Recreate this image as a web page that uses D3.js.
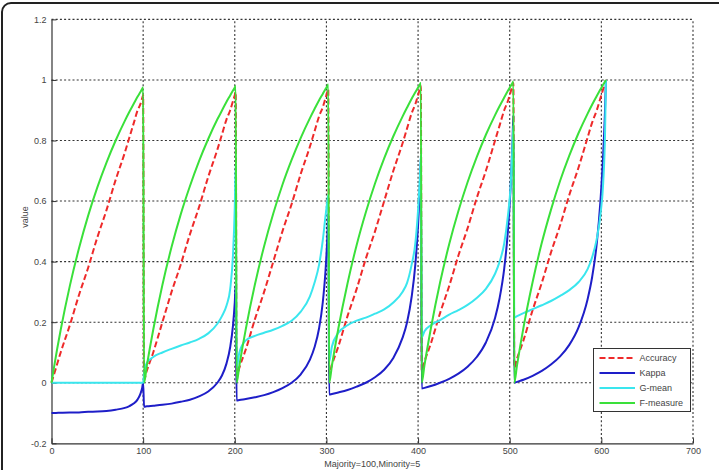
<!doctype html>
<html>
  <head>
    <meta charset="utf-8">
    <title>Majority=100, Minority=5</title>
    <script src="https://cdnjs.cloudflare.com/ajax/libs/d3/7.8.5/d3.min.js"></script>
    <style>
      body { margin: 0; background: #fff; }
      svg { display: block; font-family: "Liberation Sans", Arial, sans-serif; }
    </style>
  </head>
  <body>
    <div id="chart"></div>
    <script>
      // sample points inside each cycle (offset from cycle start)
      const offsets = [0, 3, 10, 20, 30, 40, 50, 60, 70, 80, 85, 90, 94, 97, 99, 100];
      const cycleStarts = [0, 101, 202, 303, 404, 505];

      const accuracy = [
        [0, .03, .10, .19, .29, .38, .48, .57, .67, .76, .81, .86, .90, .92, .94, .95],
        [.01, .04, .10, .20, .30, .39, .49, .58, .68, .77, .82, .87, .90, .93, .95, .96],
        [.02, .05, .11, .21, .30, .40, .50, .59, .69, .78, .83, .88, .91, .94, .96, .97],
        [.03, .06, .12, .22, .31, .41, .50, .60, .70, .79, .84, .89, .92, .95, .97, .98],
        [.04, .07, .13, .23, .32, .42, .51, .61, .70, .80, .85, .90, .93, .96, .98, .99],
        [.05, .08, .14, .24, .33, .43, .52, .62, .71, .81, .86, .90, .94, .97, .99, 1.0]
      ];
      const kappa = [
        [-.10, -.10, -.099, -.098, -.098, -.096, -.095, -.093, -.089, -.083, -.077, -.068, -.055, -.037, -.016, 0],
        [-.079, -.078, -.076, -.073, -.069, -.063, -.056, -.045, -.029, 0, .024, .064, .118, .188, .266, .323],
        [-.059, -.057, -.054, -.048, -.041, -.031, -.018, 0, .028, .076, .117, .18, .265, .37, .48, .56],
        [-.039, -.037, -.032, -.024, -.013, 0, .018, .043, .082, .148, .20, .284, .39, .52, .65, .74],
        [-.019, -.017, -.011, 0, .013, .03, .053, .085, .133, .214, .28, .377, .50, .647, .79, .884],
        [0, .003, .01, .023, .039, .06, .087, .125, .182, .276, .35, .46, .60, .755, .90, 1.0]
      ];
      const gMean = [
        [0, 0, 0, 0, 0, 0, 0, 0, 0, 0, 0, 0, 0, 0, 0, 0],
        [.03, .065, .085, .10, .112, .123, .133, .145, .163, .195, .22, .255, .31, .42, .58, .72],
        [.05, .10, .14, .155, .165, .175, .188, .205, .235, .285, .33, .39, .47, .55, .60, .62],
        [.07, .12, .165, .19, .205, .215, .228, .242, .265, .30, .33, .39, .46, .57, .68, .75],
        [.15, .17, .19, .207, .225, .24, .257, .28, .31, .36, .40, .46, .55, .65, .78, .85],
        [.215, .22, .23, .243, .256, .27, .287, .306, .332, .375, .415, .475, .555, .66, .82, 1.0]
      ];
      const fMeasure = [
        [0, .056, .174, .32, .444, .552, .645, .727, .80, .865, .895, .923, .945, .96, .971, .976],
        [0, .056, .175, .323, .448, .556, .649, .732, .805, .87, .899, .928, .949, .965, .975, .98],
        [0, .057, .177, .325, .451, .559, .654, .736, .809, .874, .904, .933, .954, .97, .98, .985],
        [0, .057, .179, .328, .455, .563, .658, .741, .814, .879, .909, .938, .959, .975, .985, .99],
        [0, .058, .18, .331, .458, .567, .662, .745, .819, .884, .914, .942, .964, .98, .99, .995],
        [0, .058, .182, .333, .462, .571, .667, .75, .824, .889, .919, .947, .969, .985, .995, 1.0]
      ];

      const seriesNames = ['Accuracy', 'Kappa', 'G-mean', 'F-measure'];
      const xTicks = [0, 100, 200, 300, 400, 500, 600, 700];
      const yTicks = [-0.2, 0, 0.2, 0.4, 0.6, 0.8, 1, 1.2];

      const W = 719, H = 470;
      const FS = 9;
      const svg = d3.select('#chart').append('svg')
        .attr('width', W).attr('height', H);

      // figure frame (rounded)
      svg.append('rect')
        .attr('x', 2).attr('y', 3).attr('width', 740).attr('height', 500)
        .attr('rx', 9)
        .attr('fill', '#fff').attr('stroke', '#222').attr('stroke-width', 2);

      const x = d3.scaleLinear().domain([0, 700]).range([51.5, 693]);
      const y = d3.scaleLinear().domain([-0.2, 1.2]).range([443.3, 19.4]);

      // dotted grid
      const grid = svg.append('g')
        .attr('stroke', '#333').attr('stroke-width', 1.1).attr('stroke-dasharray', '2,2.2');
      grid.selectAll('.gx').data(xTicks.slice(1)).join('line')
        .attr('x1', d => x(d)).attr('x2', d => x(d))
        .attr('y1', y(-0.2)).attr('y2', y(1.2));
      grid.selectAll('.gy').data(yTicks.slice(1)).join('line')
        .attr('x1', x(0)).attr('x2', x(700))
        .attr('y1', d => y(d)).attr('y2', d => y(d));

      // axes, ticks pointing inward
      const axL = svg.append('g')
        .attr('transform', `translate(${x(0)},0)`)
        .call(d3.axisLeft(y).tickValues(yTicks).tickSizeInner(-5).tickSizeOuter(0)
          .tickPadding(5).tickFormat(d => String(+d.toFixed(1))));
      const axB = svg.append('g')
        .attr('transform', `translate(0,${y(-0.2)})`)
        .call(d3.axisBottom(x).tickValues(xTicks).tickSizeInner(-5).tickSizeOuter(0)
          .tickPadding(4).tickFormat(d3.format('d')));
      [axL, axB].forEach(g => {
        g.select('.domain').attr('stroke', '#333').attr('stroke-width', 1.2);
        g.selectAll('.tick line').attr('stroke', '#333');
        g.selectAll('.tick text').attr('fill', '#444').attr('font-size', FS)
          .attr('font-family', '"Liberation Sans", Arial, sans-serif');
      });

      // series
      function points(values) {
        const pts = [];
        cycleStarts.forEach((s, c) => {
          offsets.forEach((o, i) => pts.push([s + o, values[c][i]]));
        });
        return pts;
      }
      const line = d3.line()
        .x(d => x(d[0])).y(d => y(d[1]))
        .curve(d3.curveMonotoneX);

      const series = [
        { name: seriesNames[0], values: accuracy, color: '#ee2a2a', dash: '6,3' },
        { name: seriesNames[1], values: kappa, color: '#1e1ec8', dash: null },
        { name: seriesNames[2], values: gMean, color: '#3ae6ee', dash: null },
        { name: seriesNames[3], values: fMeasure, color: '#3ae03a', dash: null }
      ];

      svg.append('g').selectAll('path').data(series).join('path')
        .attr('d', d => line(points(d.values)))
        .attr('fill', 'none')
        .attr('stroke', d => d.color)
        .attr('stroke-width', 2)
        .attr('stroke-dasharray', d => d.dash);

      // axis labels
      svg.append('text')
        .attr('x', (x(0) + x(700)) / 2).attr('y', 467)
        .attr('text-anchor', 'middle').attr('font-size', FS).attr('fill', '#444')
        .text('Majority=100,Minority=5');
      svg.append('text')
        .attr('transform', 'translate(28,217) rotate(-90)')
        .attr('text-anchor', 'middle').attr('font-size', FS).attr('fill', '#444')
        .text('value');

      // legend
      const lg = svg.append('g').attr('transform', 'translate(593.5,348.5)');
      lg.append('rect').attr('width', 97).attr('height', 63)
        .attr('fill', '#fff').attr('stroke', '#333').attr('stroke-width', 1);
      const rows = lg.selectAll('.row').data(series).join('g')
        .attr('transform', (d, i) => `translate(0,${9.5 + i * 15})`);
      rows.append('line')
        .attr('x1', 6).attr('x2', 41.5)
        .attr('stroke', d => d.color).attr('stroke-width', 2)
        .attr('stroke-dasharray', d => d.dash);
      rows.append('text')
        .attr('x', 46).attr('dy', '0.35em')
        .attr('font-size', FS).attr('fill', '#444')
        .text(d => d.name);
    </script>
  </body>
</html>
